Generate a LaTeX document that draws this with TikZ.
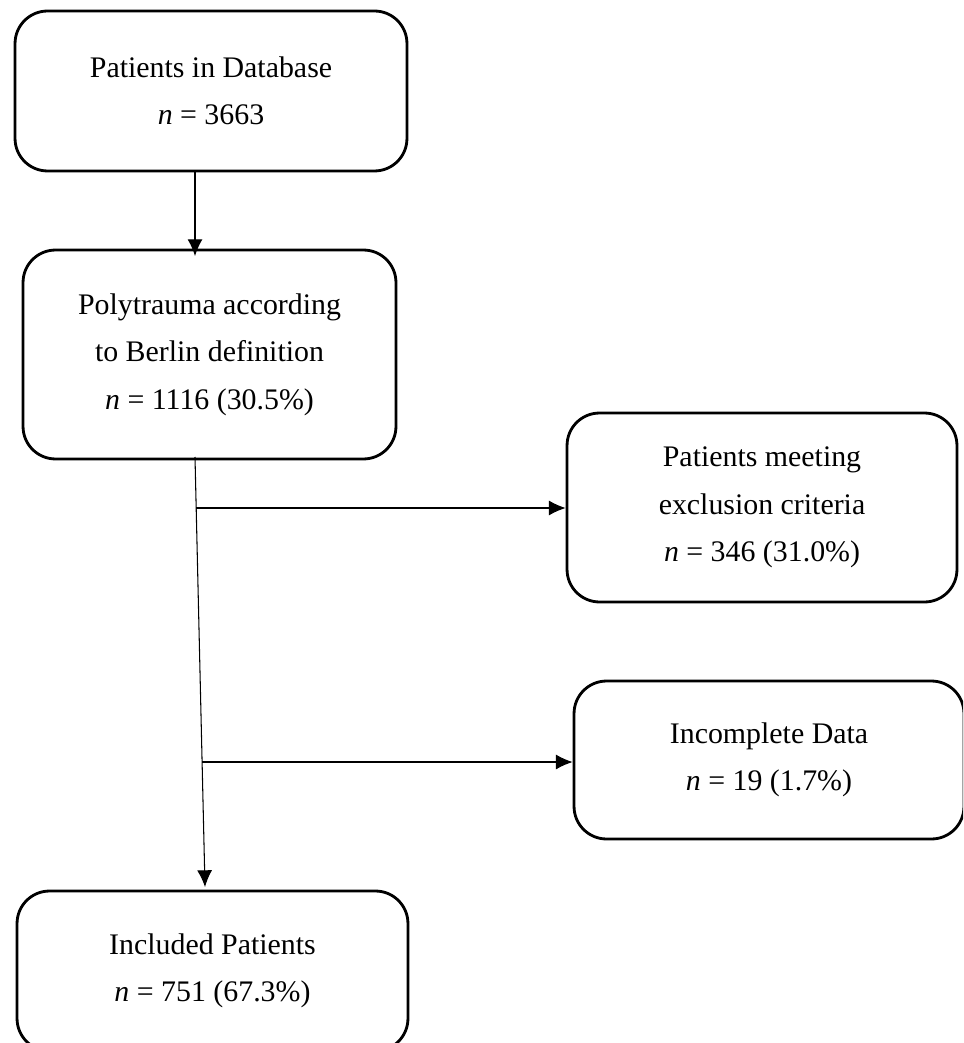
\documentclass[tikz,border=0pt]{standalone}
\usepackage{fontspec}
\setmainfont{Liberation Serif}
\usetikzlibrary{arrows.meta}
\tikzset{
	box/.style={draw=black, line width=1.6pt, rounded corners=0.65cm, align=center, inner sep=0pt, font=\fontsize{17}{27}\selectfont},
	flow/.style={line width=0.6pt, -{Latex[length=9.5pt, width=8.5pt]}},
	stem/.style={line width=0.6pt}
}
\begin{document}
\begin{tikzpicture}[x=0.02cm, y=-0.02cm]
		\def\xleft{0}
		\def\xright{963}
		\def\yup{0}
		\def\ydown{1043}
		\path[use as bounding box] (\xleft, \yup) rectangle (\xright, \ydown);
		\clip (\xleft, \yup) rectangle (\xright, \ydown);
		
		% Boxes
		\node[box, minimum width=7.84cm, minimum height=3.2cm] (database) at (211, 91)
			{Patients in Database\\\textit{n} = 3663};
		\node[box, minimum width=7.46cm, minimum height=4.18cm] (polytrauma) at (209.5, 354.5)
			{Polytrauma according\\to Berlin definition\\\textit{n} = 1116 (30.5\%)};
		\node[box, minimum width=7.8cm, minimum height=3.78cm] (exclusion) at (762, 507.5)
			{Patients meeting\\exclusion criteria\\\textit{n} = 346 (31.0\%)};
		\node[box, minimum width=7.8cm, minimum height=3.16cm] (incomplete) at (769, 760)
			{Incomplete Data\\\textit{n} = 19 (1.7\%)};
		\node[box, minimum width=7.82cm, minimum height=3.2cm] (included) at (212.5, 971)
			{Included Patients\\\textit{n} = 751 (67.3\%)};
		
		% Stem points
		\coordinate (dbout) at (195, 171);
		\coordinate (ptin) at (195, 256);
		\coordinate (ptout) at (195, 457);
		\coordinate (split1) at (196.2, 508);
		\coordinate (split2) at (202.1, 762);
		\coordinate (incin) at (205, 887);
		
		% Arrows
		\draw[flow] (dbout) -- (ptin);
		\draw[flow] (ptout) -- (incin);
		\draw[flow] (split1) -- (split1 -| exclusion.west);
		\draw[flow] (split2) -- (split2 -| incomplete.west);
		
	\end{tikzpicture}
\end{document}
